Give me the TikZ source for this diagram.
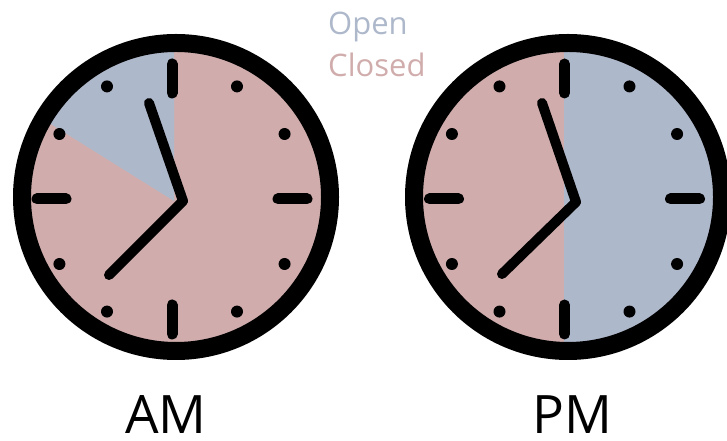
\documentclass[tikz,border=0pt]{standalone}
\usepackage{fontspec}
\setmainfont{Open Sans}
\usepackage{xcolor}
\usepackage{tikz}
\definecolor{closedpink}{RGB}{208,173,172}
\definecolor{openblue}{RGB}{174,184,203}

\begin{document}
\begin{tikzpicture}[x=1pt, y=1pt,
    rim/.style={line width=18pt},
    hourtick/.style={line width=11pt, line cap=round},
    hand/.style={line width=10pt, line cap=round, line join=round},
    legend/.style={anchor=base west, inner sep=0pt, font=\fontsize{31}{36}\selectfont},
    ampm/.style={anchor=base, inner sep=0pt, font=\fontsize{53}{60}\selectfont}]
    \useasboundingbox (0,0) rectangle (727,441);
    % Tâm mặt đồng hồ và tâm vạch chia
    \coordinate (amC) at (176,244);
    \coordinate (amT) at (172,242);
    \coordinate (pmC) at (568,244);
    \coordinate (pmT) at (564.5,242);

    % Mặt đồng hồ AM
    \fill[closedpink] (amC) circle (150);
    \begin{scope}
        \clip (amC) circle (150);
        \fill[openblue] (174,240) -- ++(148:260) |- (174,441) -- cycle;
    \end{scope}

    % Mặt đồng hồ PM
    \fill[openblue] (pmC) circle (150);
    \begin{scope}
        \clip (pmC) circle (150);
        \fill[closedpink] (0,0) rectangle (564,441);
    \end{scope}

    % Viền
    \draw[rim] (amC) circle (154);
    \draw[rim] (pmC) circle (154);

    % Vạch chia giờ
    \foreach \t in {amT, pmT} {
        \foreach \a in {0,90,180,270}
            \draw[hourtick] (\t) ++(\a:106) -- ++(\a:29);
        \foreach \a in {30,60,120,150,210,240,300,330}
            \fill (\t) ++(\a:130) circle (6);
    }

    % Kim đồng hồ
    \draw[hand] (149,338) -- (183,240) -- (109,166);
    \draw[hand] (542,338) -- (576,239) -- (502,167);

    % Chú thích
    \node[legend, text=openblue] (open) at (328,406) {Open};
    \node[legend, text=closedpink] (closed) at (328,364) {Closed};
    \node[ampm] (am) at (166,8) {AM};
    \node[ampm] (pm) at (572,8) {PM};
\end{tikzpicture}
\end{document}
